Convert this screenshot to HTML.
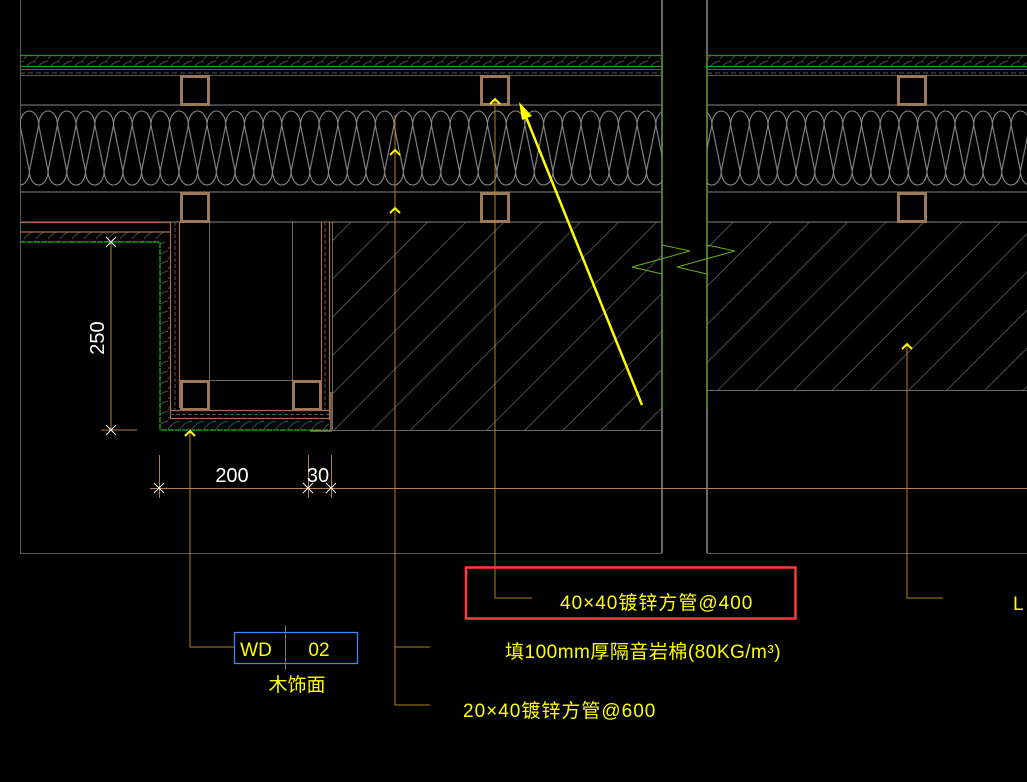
<!DOCTYPE html>
<html><head><meta charset="utf-8"><style>
html,body{margin:0;padding:0;background:#000;}
svg{display:block}
text{font-family:"Liberation Sans","Noto Sans CJK SC",sans-serif;}
</style></head><body>
<svg width="1027" height="782" viewBox="0 0 1027 782" xmlns="http://www.w3.org/2000/svg">
<defs>
<pattern id="hatch" patternUnits="userSpaceOnUse" width="27" height="27" patternTransform="rotate(45)">
<line x1="0" y1="0" x2="0" y2="27" stroke="#6a6a6a" stroke-width="1.4"/>
</pattern>
<pattern id="wool" patternUnits="userSpaceOnUse" x="20" y="108" width="18.7" height="80">
<path d="M0,17 A9.35,14 0 0 1 18.7,17 M0,17 L9.35,63 L18.7,17 M-9.35,63 A9.35,14 0 0 0 9.35,63 A9.35,14 0 0 0 28.05,63" fill="none" stroke="#8a8a8a" stroke-width="1.1"/>
</pattern>
<pattern id="wood" patternUnits="userSpaceOnUse" width="12" height="10">
<path d="M0,9 Q5,2 12,1" fill="none" stroke="#4a4a4a" stroke-width="1"/>
</pattern>
</defs>

<g stroke="#5a5a5a" stroke-width="1" fill="none">
<line x1="20.5" y1="0" x2="20.5" y2="553"/>
<line x1="20" y1="553.5" x2="662" y2="553.5"/>
<line x1="707" y1="553.5" x2="1027" y2="553.5"/>
</g>
<g stroke="#8a8a8a" stroke-width="1.5">
<line x1="662" y1="0" x2="662" y2="553"/>
<line x1="707" y1="0" x2="707" y2="553"/>
</g>
<line x1="662" y1="55" x2="662" y2="410" stroke="#5a9a1a" stroke-width="1.2"/>
<line x1="707" y1="55" x2="707" y2="410" stroke="#5a9a1a" stroke-width="1.2"/>

<g>
<rect x="20" y="55" width="642" height="11" fill="url(#wood)"/>
<rect x="707" y="55" width="320" height="11" fill="url(#wood)"/>
<g stroke="#1a9a1a" stroke-width="1.2">
<line x1="20" y1="55.5" x2="662" y2="55.5"/><line x1="707" y1="55.5" x2="1027" y2="55.5"/>
<line x1="20" y1="66.5" x2="662" y2="66.5"/><line x1="707" y1="66.5" x2="1027" y2="66.5"/>
</g>
<g stroke="#5a5a5a" stroke-width="1">
<line x1="20" y1="69.5" x2="662" y2="69.5"/><line x1="707" y1="69.5" x2="1027" y2="69.5"/>
<line x1="20" y1="73" x2="662" y2="73" stroke-dasharray="5 3"/><line x1="707" y1="73" x2="1027" y2="73" stroke-dasharray="5 3"/>
<line x1="20" y1="75.5" x2="662" y2="75.5"/><line x1="707" y1="75.5" x2="1027" y2="75.5"/>
</g>
<g stroke="#6a6a6a" stroke-width="1.2">
<line x1="20" y1="105" x2="662" y2="105"/><line x1="707" y1="105" x2="1027" y2="105"/>
<line x1="20" y1="192" x2="662" y2="192"/><line x1="707" y1="192" x2="1027" y2="192"/>
<line x1="20" y1="222" x2="662" y2="222"/><line x1="707" y1="222" x2="1027" y2="222"/>
</g>
<rect x="20" y="108" width="642" height="80" fill="url(#wool)"/>
<rect x="707" y="108" width="320" height="80" fill="url(#wool)"/>
</g>

<g fill="none" stroke="#9a7a5a" stroke-width="3">
<rect x="181.5" y="76.5" width="27" height="28"/><rect x="181.5" y="193.5" width="27" height="28"/>
<rect x="481.5" y="76.5" width="27" height="28"/><rect x="481.5" y="193.5" width="27" height="28"/>
<rect x="898.5" y="76.5" width="27" height="28"/><rect x="898.5" y="193.5" width="27" height="28"/>
<rect x="181.5" y="381.5" width="27" height="28"/><rect x="293.5" y="381.5" width="27" height="28"/>
</g>

<rect x="332" y="222" width="330" height="208" fill="url(#hatch)"/>
<rect x="707" y="222" width="320" height="168" fill="url(#hatch)"/>
<g stroke="#6a6a6a" stroke-width="1">
<line x1="332" y1="430.5" x2="662" y2="430.5"/>
<line x1="707" y1="390.5" x2="1027" y2="390.5"/>
<line x1="332.5" y1="222" x2="332.5" y2="430"/>
</g>

<rect x="20" y="232" width="145" height="10" fill="url(#wood)"/>
<g stroke="#b06a50" stroke-width="1.2">
<line x1="20" y1="222.5" x2="170" y2="222.5"/>
<line x1="20" y1="232" x2="170" y2="232"/>
</g>
<polyline points="20,242 160,242 160,430 330,430" fill="none" stroke="#1a9a1a" stroke-width="1.4" stroke-dasharray="6 1"/>

<rect x="161" y="242" width="9" height="188" fill="url(#wood)"/>
<rect x="161" y="418" width="168" height="12" fill="url(#wood)"/>
<g stroke="#b06a50" stroke-width="1.2" fill="none">
<line x1="170.5" y1="222" x2="170.5" y2="418"/>
<line x1="179.5" y1="222" x2="179.5" y2="408"/>
<line x1="321.5" y1="222" x2="321.5" y2="408"/>
<line x1="329.5" y1="222" x2="329.5" y2="420"/>
<line x1="170" y1="410.5" x2="329" y2="410.5"/>
<line x1="170" y1="418.5" x2="329" y2="418.5"/>
</g>
<g stroke="#555" stroke-width="1" stroke-dasharray="4 2">
<line x1="175" y1="222" x2="175" y2="410"/>
<line x1="325" y1="222" x2="325" y2="410"/>
<line x1="170" y1="414.5" x2="329" y2="414.5"/>
</g>
<g stroke="#6a6a6a" stroke-width="1">
<line x1="209.5" y1="222" x2="209.5" y2="380"/>
<line x1="292.5" y1="222" x2="292.5" y2="380"/>
<line x1="209" y1="380.5" x2="292" y2="380.5"/>
</g>
<polyline points="310,431 331,431 331,392" fill="none" stroke="#9a7a5a" stroke-width="1.5"/>

<g fill="none" stroke="#6aaa1a" stroke-width="1">
<polyline points="662,245 690,251 632,267 662,274"/>
<polyline points="707,245 735,251 677,267 707,274"/>
</g>

<g stroke="#b08050" stroke-width="1">
<line x1="111" y1="242" x2="111" y2="430"/>
<line x1="101" y1="430" x2="137" y2="430"/>
<line x1="150" y1="488.5" x2="1027" y2="488.5"/>
<line x1="159.5" y1="455" x2="159.5" y2="498"/>
<line x1="308.5" y1="455" x2="308.5" y2="498"/>
<line x1="331.5" y1="455" x2="331.5" y2="498"/>
</g>
<g stroke="#fff" stroke-width="1">
<path d="M106,237 L116,247 M106,247 L116,237"/>
<path d="M106,425 L116,435 M106,435 L116,425"/>
<path d="M154,483 L164,493 M154,493 L164,483"/>
<path d="M303,483 L313,493 M303,493 L313,483"/>
<path d="M326,483 L336,493 M326,493 L336,483"/>
</g>
<text x="0" y="0" transform="translate(104,338) rotate(-90)" fill="#fff" font-size="20" text-anchor="middle">250</text>
<text x="232" y="482" fill="#fff" font-size="20" text-anchor="middle">200</text>
<text x="318" y="482" fill="#fff" font-size="20" text-anchor="middle">30</text>

<g stroke="#b08020" stroke-width="1" fill="none">
<polyline points="190,432 190,647 234,647"/>
<polyline points="395,115 395,705 430,705"/>
<line x1="395" y1="647" x2="430" y2="647"/>
<polyline points="495,100 495,598 532,598"/>
<polyline points="907,345 907,598 943,598"/>
</g>
<g fill="none" stroke="#ffff00" stroke-width="2">
<polyline points="185,436 190,431 195,436"/>
<polyline points="390,155 395,150 400,155"/>
<polyline points="390,213 395,208 400,213"/>
<polyline points="490,104 495,99 500,104"/>
<polyline points="902,349 907,344 912,349"/>
</g>

<line x1="642" y1="405" x2="524" y2="112" stroke="#ffff00" stroke-width="2.5"/>
<polygon points="519,102 532,116 522,120" fill="#ffff00"/>

<rect x="234.5" y="632.5" width="123" height="31" fill="none" stroke="#3a8aff" stroke-width="1.2"/>
<line x1="285.5" y1="625" x2="285.5" y2="670" stroke="#777" stroke-width="1"/>
<text x="256" y="656" fill="#ffff00" font-size="19" text-anchor="middle">WD</text>
<text x="319" y="656" fill="#ffff00" font-size="19" text-anchor="middle">02</text>
<text x="297" y="691" fill="#ffff00" font-size="19" text-anchor="middle">木饰面</text>

<rect x="466" y="567.5" width="329.5" height="51" fill="none" stroke="#ff3b3b" stroke-width="2.5"/>
<text x="560" y="609" fill="#ffff00" font-size="19" letter-spacing="1">40×40镀锌方管@400</text>
<text x="505" y="658" fill="#ffff00" font-size="19" letter-spacing="0.5">填100mm厚隔音岩棉(80KG/m³)</text>
<text x="463" y="717" fill="#ffff00" font-size="19" letter-spacing="1">20×40镀锌方管@600</text>
<text x="1013" y="610" fill="#ffff00" font-size="19">L</text>
</svg>
</body></html>
